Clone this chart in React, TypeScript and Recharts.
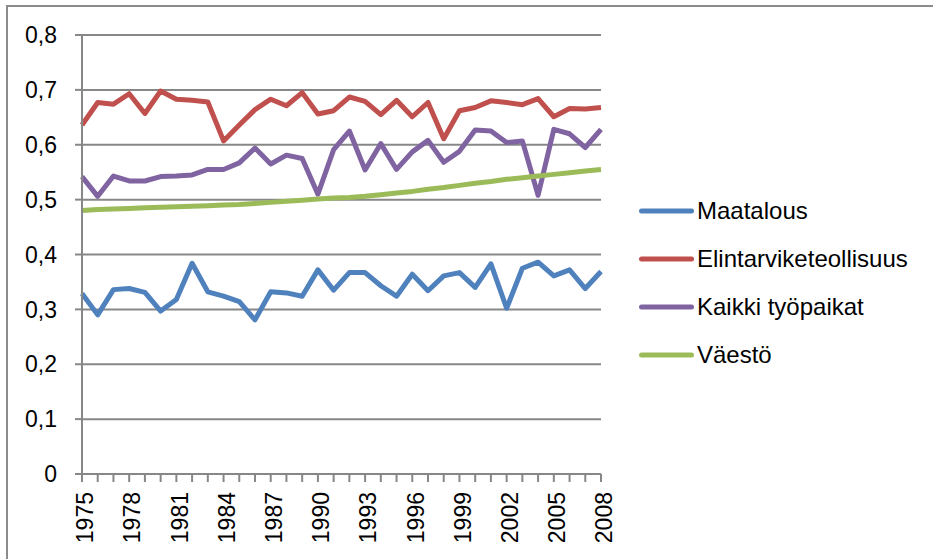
import React from 'react';
import { LineChart, Line, XAxis, YAxis, CartesianGrid, Legend } from 'recharts';

const years = [
  1975, 1976, 1977, 1978, 1979, 1980, 1981, 1982, 1983, 1984, 1985, 1986,
  1987, 1988, 1989, 1990, 1991, 1992, 1993, 1994, 1995, 1996, 1997, 1998,
  1999, 2000, 2001, 2002, 2003, 2004, 2005, 2006, 2007, 2008,
];

const maatalous = [
  0.329, 0.29, 0.336, 0.338, 0.331, 0.297, 0.318, 0.384, 0.332, 0.324, 0.314, 0.281,
  0.332, 0.33, 0.324, 0.372, 0.335, 0.367, 0.367, 0.343, 0.324, 0.364, 0.334, 0.361,
  0.367, 0.34, 0.383, 0.302, 0.375, 0.386, 0.361, 0.372, 0.338, 0.369,
];

const elintarvike = [
  0.636, 0.677, 0.674, 0.693, 0.657, 0.698, 0.683, 0.681, 0.678, 0.607, 0.636, 0.664,
  0.683, 0.671, 0.695, 0.656, 0.662, 0.687, 0.679, 0.655, 0.681, 0.651, 0.677, 0.611,
  0.662, 0.668, 0.68, 0.677, 0.673, 0.684, 0.651, 0.666, 0.665, 0.668,
];

const kaikki = [
  0.542, 0.506, 0.543, 0.534, 0.534, 0.542, 0.543, 0.545, 0.555, 0.555, 0.567, 0.594,
  0.565, 0.581, 0.575, 0.51, 0.591, 0.625, 0.554, 0.602, 0.555, 0.587, 0.608, 0.568,
  0.588, 0.627, 0.625, 0.604, 0.607, 0.508, 0.628, 0.62, 0.595, 0.628,
];

const vaesto = [
  0.48, 0.482, 0.483, 0.484, 0.485, 0.486, 0.487, 0.488, 0.489, 0.49, 0.491, 0.493,
  0.495, 0.497, 0.499, 0.501, 0.503, 0.504, 0.506, 0.509, 0.512, 0.515, 0.519, 0.522,
  0.526, 0.53, 0.533, 0.537, 0.54, 0.543, 0.546, 0.549, 0.552, 0.555,
];

const yTicks = [0, 0.1, 0.2, 0.3, 0.4, 0.5, 0.6, 0.7, 0.8];

const seriesNames = ['Maatalous', 'Elintarviketeollisuus', 'Kaikki työpaikat', 'Väestö'];
const seriesKeys = ['maatalous', 'elintarvike', 'kaikki', 'vaesto'];
const seriesColors = ['#4F81BD', '#C0504D', '#8064A2', '#9BBB59'];

const data = years.map((y, i) => ({
  year: String(y),
  maatalous: maatalous[i],
  elintarvike: elintarvike[i],
  kaikki: kaikki[i],
  vaesto: vaesto[i],
}));

const FONT = '"Liberation Sans", Arial, sans-serif';
const GRAY = '#878787';

const XTick = (props: any) => {
  const { x, y, payload, index } = props;
  if (index % 3 !== 0) return <g />;
  const ax = x + 3;
  const ay = y + 8;
  return (
    <text
      x={ax}
      y={ay}
      dy="0.36em"
      transform={`rotate(-90, ${ax}, ${ay})`}
      textAnchor="end"
      fill="#000"
      fontSize={23}
      fontFamily={FONT}
    >
      {payload.value}
    </text>
  );
};

const LegendContent = (props: any) => {
  const payload = [...(props.payload || [])].sort(
    (a: any, b: any) => seriesNames.indexOf(a.value) - seriesNames.indexOf(b.value)
  );
  return (
    <div style={{ fontFamily: FONT, fontSize: 24, color: '#000' }}>
      {payload.map((p: any, i: number) => (
        <div
          key={i}
          style={{ display: 'flex', alignItems: 'center', height: 48, whiteSpace: 'nowrap' }}
        >
          <svg width={59} height={10} style={{ display: 'block' }}>
            <line x1={3.5} y1={5} x2={53.5} y2={5} stroke={p.color} strokeWidth={5} strokeLinecap="round" />
          </svg>
          <span style={{ lineHeight: '48px' }}>{p.value}</span>
        </div>
      ))}
    </div>
  );
};

export default function App() {
  return (
    <div style={{ position: 'absolute', left: 0, top: 0, width: 933, height: 559, overflow: 'hidden', background: '#fff' }}>
      <div
        style={{
          position: 'absolute',
          left: 6,
          top: 5,
          width: 960,
          height: 600,
          borderTop: '2px solid #8c8c8c',
          borderLeft: '2px solid #8c8c8c',
        }}
      />
      <div style={{ position: 'absolute', left: 0, top: 0 }}>
        <LineChart
          width={933}
          height={559}
          data={data}
          margin={{ top: 35, right: 332, bottom: 0, left: 0 }}
        >
          <CartesianGrid vertical={false} stroke={GRAY} strokeWidth={2} />
          <XAxis
            dataKey="year"
            interval={0}
            height={85}
            tick={<XTick />}
            tickSize={8}
            tickLine={{ stroke: GRAY, strokeWidth: 2 }}
            axisLine={{ stroke: GRAY, strokeWidth: 2 }}
          />
          <YAxis
            width={82}
            domain={[0, 0.8]}
            ticks={yTicks}
            interval={0}
            tickSize={7}
            tickMargin={18}
            tickFormatter={(v: number) => String(v).replace('.', ',')}
            tick={{ fill: '#000', fontSize: 23, fontFamily: FONT }}
            tickLine={{ stroke: GRAY, strokeWidth: 2 }}
            axisLine={{ stroke: GRAY, strokeWidth: 2 }}
          />
          {seriesKeys.map((k, i) => (
            <Line
              key={k}
              dataKey={k}
              name={seriesNames[i]}
              stroke={seriesColors[i]}
              strokeWidth={5}
              dot={false}
              activeDot={false}
              strokeLinejoin="round"
              isAnimationActive={false}
            />
          ))}
          <Legend
            layout="vertical"
            align="center"
            verticalAlign="middle"
            content={<LegendContent />}
            wrapperStyle={{ left: 638, top: 187, width: 295, right: 'auto', bottom: 'auto' }}
          />
        </LineChart>
      </div>
    </div>
  );
}
